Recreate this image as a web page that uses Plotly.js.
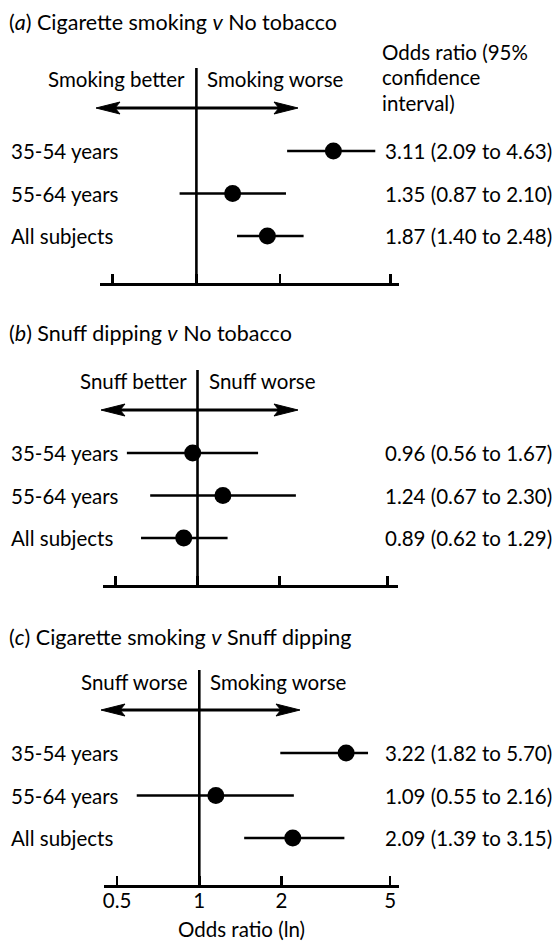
<!DOCTYPE html>
<html>
<head>
<meta charset="utf-8">
<script src="https://cdn.plot.ly/plotly-3.0.1.min.js"></script>
<style>
html,body{margin:0;padding:0;background:#fff;}
#chart{width:555px;height:942px;}
</style>
</head>
<body>
<div id="chart"></div>
<script>
// ---------------- data ----------------
const panelTitles = [
  '(<i>a</i>) Cigarette smoking <i>v</i> No tobacco',
  '(<i>b</i>) Snuff dipping <i>v</i> No tobacco',
  '(<i>c</i>) Cigarette smoking <i>v</i> Snuff dipping'
];
const leftHeaders = ['Smoking better', 'Snuff better', 'Snuff worse'];
const rightHeaders = ['Smoking worse', 'Snuff worse', 'Smoking worse'];
const groups = ['35-54 years', '55-64 years', 'All subjects'];

// odds ratios and 95% CI as drawn in the figure
const oddsA = [3.11, 1.35, 1.80];
const lowA  = [2.12, 0.87, 1.40];
const highA = [4.40, 2.10, 2.43];
const labelsA = ['3.11 (2.09 to 4.63)', '1.35 (0.87 to 2.10)', '1.87 (1.40 to 2.48)'];

const oddsB = [0.96, 1.24, 0.89];
const lowB  = [0.55, 0.67, 0.62];
const highB = [1.67, 2.30, 1.29];
const labelsB = ['0.96 (0.56 to 1.67)', '1.24 (0.67 to 2.30)', '0.89 (0.62 to 1.29)'];

const oddsC = [3.45, 1.15, 2.20];
const lowC  = [1.98, 0.59, 1.46];
const highC = [4.15, 2.22, 3.40];
const labelsC = ['3.22 (1.82 to 5.70)', '1.09 (0.55 to 2.16)', '2.09 (1.39 to 3.15)'];

const tickValues = [0.5, 1, 2, 5];
const tickLabels = ['0.5', '1', '2', '5'];
const columnHeader = ['Odds ratio (95%', 'confidence', 'interval)'];
const axisTitle = 'Odds ratio (ln)';

// ---------------- layout geometry (pixels) ----------------
const W = 555, H = 942;
const FONT = 'Lato, "Noto Sans", sans-serif';
const FS = 20.5;
const geo = [
  {L: 99.6, R: 399,   one: 196.4, k: 278, axisY: 283, topY: 68,  titleY: 22,  headY: 79,  arrowY: 108, arrowL: 96,  arrowR: 298},
  {L: 103,  R: 397.5, one: 197.5, k: 272, axisY: 585, topY: 370, titleY: 333, headY: 381, arrowY: 410, arrowL: 101, arrowR: 298},
  {L: 104.3,R: 398.6, one: 199.3, k: 273, axisY: 885, topY: 670, titleY: 637, headY: 682, arrowY: 710, arrowL: 101, arrowR: 300}
];
const panels = [
  {odds: oddsA, low: lowA, high: highA, labels: labelsA},
  {odds: oddsB, low: lowB, high: highB, labels: labelsB},
  {odds: oddsC, low: lowC, high: highC, labels: labelsC}
];
const px = x => x / W;
const py = y => 1 - y / H;
const font = {family: FONT, size: FS, color: '#000'};
const titleFont = {family: FONT, size: 21.5, color: '#000'};

const traces = [];
const shapes = [];
const annotations = [];
const layout = {
  width: W, height: H,
  margin: {l: 0, r: 0, t: 0, b: 0},
  paper_bgcolor: '#fff', plot_bgcolor: 'rgba(0,0,0,0)',
  showlegend: false,
  font: font
};

panels.forEach((p, i) => {
  const g = geo[i];
  const n = i === 0 ? '' : String(i + 1);
  const xa = 'x' + n, ya = 'y' + n;

  layout['xaxis' + n] = {
    type: 'log',
    domain: [px(g.L), px(g.R)],
    range: [(g.L - g.one) / g.k, (g.R - g.one) / g.k],
    anchor: ya,
    showgrid: false, zeroline: false,
    showline: true, linewidth: 3, linecolor: '#000',
    ticks: 'inside', ticklen: 9, tickwidth: 2.5, tickcolor: '#000',
    tickmode: 'array', tickvals: tickValues, ticktext: tickLabels,
    showticklabels: i === 2,
    ticklabelstandoff: -5,
    tickfont: font,
    fixedrange: true
  };
  const rowPx = 42.5, bottomPad = 47;
  const top = g.topY, bottom = g.axisY;
  const lo = (groups.length - 1) + bottomPad / rowPx;
  layout['yaxis' + n] = {
    type: 'category',
    categoryorder: 'array', categoryarray: groups,
    domain: [py(bottom), py(top)],
    range: [lo, lo - (bottom - top) / rowPx],
    anchor: xa,
    visible: false, fixedrange: true
  };

  // estimates with confidence intervals
  traces.push({
    type: 'scatter', mode: 'markers',
    x: p.odds, y: groups, xaxis: xa, yaxis: ya,
    marker: {size: 17, color: '#000'},
    error_x: {
      type: 'data', symmetric: false,
      array: p.high.map((h, j) => h - p.odds[j]),
      arrayminus: p.low.map((l, j) => p.odds[j] - l),
      color: '#000', thickness: 2.6, width: 0
    },
    cliponaxis: false, hoverinfo: 'skip'
  });

  // line of no effect (odds ratio = 1)
  shapes.push({
    type: 'line', xref: xa, yref: ya + ' domain',
    x0: 1, x1: 1, y0: 0, y1: 1,
    line: {color: '#000', width: 2.6}
  });

  // double-headed arrow
  const ay = g.arrowY;
  shapes.push({
    type: 'line', xref: 'paper', yref: 'paper',
    x0: px(g.arrowL + 12), x1: px(g.arrowR - 12), y0: py(ay), y1: py(ay),
    line: {color: '#000', width: 2.8}
  });
  const head = (tip, dir) => {
    const len = 24, half = 6, notch = 19;
    return 'M' + px(tip) + ',' + py(ay) +
      ' L' + px(tip - dir * len) + ',' + py(ay - half) +
      ' L' + px(tip - dir * notch) + ',' + py(ay) +
      ' L' + px(tip - dir * len) + ',' + py(ay + half) + ' Z';
  };
  shapes.push({type: 'path', xref: 'paper', yref: 'paper', path: head(g.arrowR, 1),
    fillcolor: '#000', line: {color: '#000', width: 1}});
  shapes.push({type: 'path', xref: 'paper', yref: 'paper', path: head(g.arrowL, -1),
    fillcolor: '#000', line: {color: '#000', width: 1}});

  // panel title
  annotations.push({xref: 'paper', yref: 'paper', x: px(7), y: py(g.titleY),
    xanchor: 'left', yanchor: 'middle', text: panelTitles[i], showarrow: false, font: titleFont});
  // direction headers either side of OR = 1 (annotation x on log axis is log10)
  annotations.push({xref: xa, yref: 'paper', x: 0, y: py(g.headY), xshift: -9,
    xanchor: 'right', yanchor: 'middle', text: leftHeaders[i], showarrow: false, font: font});
  annotations.push({xref: xa, yref: 'paper', x: 0, y: py(g.headY), xshift: 9,
    xanchor: 'left', yanchor: 'middle', text: rightHeaders[i], showarrow: false, font: font});

  groups.forEach((grp, j) => {
    annotations.push({xref: 'paper', yref: ya, x: px(9), y: grp,
      xanchor: 'left', yanchor: 'middle', text: grp, showarrow: false, font: font});
    annotations.push({xref: 'paper', yref: ya, x: px(383), y: grp,
      xanchor: 'left', yanchor: 'middle', text: p.labels[j], showarrow: false, font: font});
  });
});

// column header (panel a)
const headerY = [52, 77, 103];
columnHeader.forEach((t, j) => {
  annotations.push({xref: 'paper', yref: 'paper', x: px(380), y: py(headerY[j]),
    xanchor: 'left', yanchor: 'middle', text: t, showarrow: false, font: font});
});
// x axis title
annotations.push({xref: 'paper', yref: 'paper', x: px(241), y: py(929),
  xanchor: 'center', yanchor: 'middle', borderpad: 0, text: axisTitle, showarrow: false, font: font});

layout.shapes = shapes;
layout.annotations = annotations;

Plotly.newPlot('chart', traces, layout, {displayModeBar: false, staticPlot: true});
</script>
</body>
</html>
